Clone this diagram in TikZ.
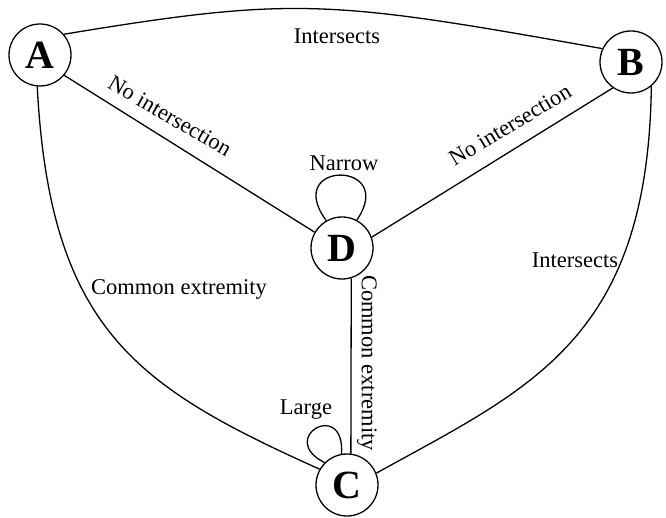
\documentclass[tikz,border=0pt]{standalone}
\usepackage{fontspec}
\setmainfont{Liberation Serif}
\begin{document}
\begin{tikzpicture}[x=1pt,y=-1pt,
  vtx/.style={draw,circle,line width=1.3pt,minimum size=62pt,inner sep=0pt,font=\fontsize{40}{44}\selectfont\bfseries},
  edge/.style={line width=1.3pt},
  lbl/.style={font=\fontsize{22.5}{26}\selectfont,inner sep=0pt}]
\useasboundingbox (0,0) rectangle (666,518);
\node[vtx] (A) at (40,55) {A};
\node[vtx] (B) at (631,62) {B};
\node[vtx] (D) at (342,248) {D};
\node[vtx] (C) at (347,485) {C};
% edges
\draw[edge] (A.41) .. controls (295,-4) and (330,0) .. (B.155);
\draw[edge] (A.320) -- (D.150);
\draw[edge] (B.235) -- (D.20);
\draw[edge] (D.287) -- (C.83);
\draw[edge] (A.265) .. controls (50,330) and (137,387) .. (C.150);
\draw[edge] (B.310) .. controls (648,340) and (530,388) .. (C.22);
\draw[edge] (D.120) .. controls (282,160) and (398,160) .. (D.62);
\draw[edge] (C.135) .. controls (276,438) and (345,398) .. (C.100);
% labels
\node[lbl] (lab) at (337,36) {Intersects};
\node[lbl] (lbc) at (575,260) {Intersects};
\node[lbl] (lac) at (179,289) {Common extremity};
\node[lbl,rotate=-90] (ldc) at (367,363) {Common extremity};
\node[lbl,rotate=-30] (lad) at (170,116) {No intersection};
\node[lbl,rotate=31] (lbd) at (510,125) {No intersection};
\node[lbl] (ldd) at (344,163) {Narrow};
\node[lbl] (lcc) at (306,410) {Large};
\end{tikzpicture}
\end{document}
